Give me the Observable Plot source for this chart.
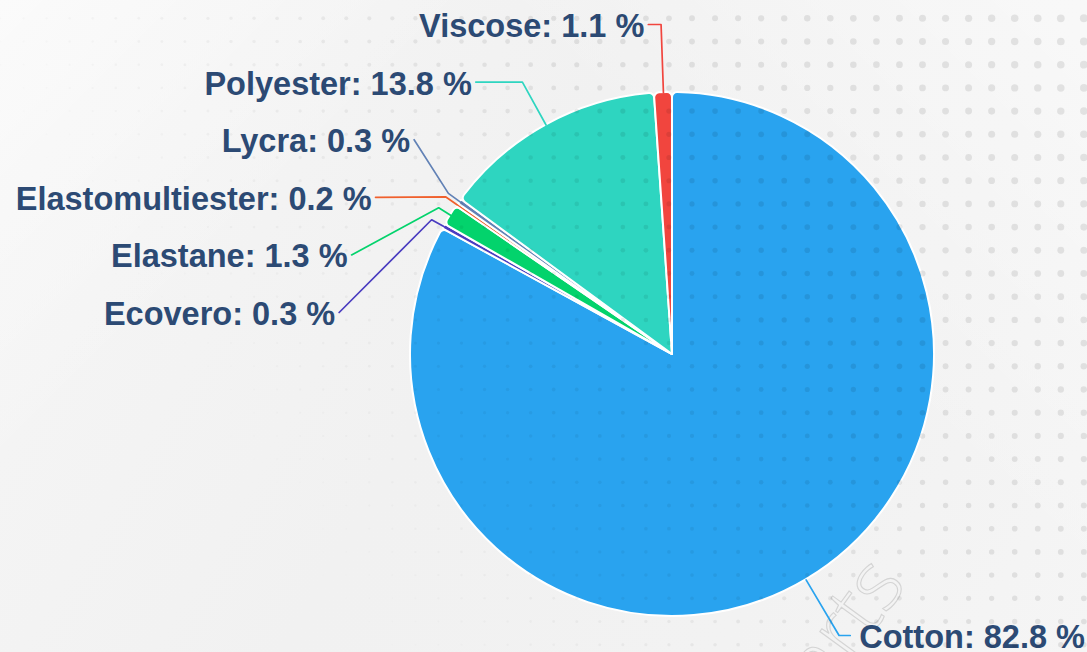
<!DOCTYPE html>
<html>
<head>
<meta charset="utf-8">
<script src="https://cdn.jsdelivr.net/npm/d3@7"></script>
<script src="https://cdn.jsdelivr.net/npm/@observablehq/plot@0.6"></script>
<style>
  html, body { margin: 0; padding: 0; }
  body { width: 1087px; height: 652px; overflow: hidden; }
  #wrap {
    position: relative; width: 1087px; height: 652px; overflow: hidden;
    background:
      linear-gradient(135deg, rgba(255,255,255,0.55) 0%, rgba(255,255,255,0.0) 28%),
      linear-gradient(225deg, rgba(255,255,255,0.5) 0%, rgba(255,255,255,0.0) 35%),
      linear-gradient(120deg, #f6f6f6 0%, #f1f1f1 45%, #f2f2f2 75%, #f5f5f5 100%);
  }
  #wrap > svg, #wrap > canvas { position: absolute; left: 0; top: 0; }
  #dots { pointer-events: none; }
</style>
</head>
<body>
<div id="wrap">
  <svg id="watermark" width="1087" height="652">
    <text transform="translate(908,584) rotate(-54)" text-anchor="end"
          font-family="Open Sans, Lato, sans-serif" font-weight="300" font-size="82"
          fill="none" stroke="#d4d4d4" stroke-width="1.1">charts</text>
  </svg>
</div>
<canvas id="dots" width="1087" height="652"></canvas>
<script>
// ---- data ----
const materials = ["Cotton", "Ecovero", "Elastane", "Elastomultiester", "Lycra", "Polyester", "Viscose"];
const shares = [82.8, 0.3, 1.3, 0.2, 0.3, 13.8, 1.1];
const sliceColors = ["#29a3ef", "#4a3cc0", "#03d36c", "#f0602d", "#6282b6", "#2ed5c0", "#f1453e"];

// ---- layout ----
const W = 1087, H = 652, CX = 672, CY = 354, R = 262;
const LABEL_R = 336 / R, BREAK_R = 276 / R, BOX = 57.6 / R, PAD = 13 / R;
const TOP_LIMIT = (CY - 24) / R, BOTTOM_LIMIT = -(H - 17 - CY) / R;

const records = materials.map((name, i) => ({name, share: shares[i]}));
const arcs = d3.pie().sort(null).value(d => d.share)(records);
const slices = arcs.map(a => ({
  name: a.data.name, share: a.data.share,
  a0: a.startAngle, a1: a.endAngle, mid: (a.startAngle + a.endAngle) / 2
}));
slices.forEach(s => {
  s.side = Math.sin(s.mid) < 0 ? "left" : "right";
  s.ideal = LABEL_R * Math.cos(s.mid);
  s.label = `${s.name}: ${s.share.toFixed(1)} %`;
});

// Highcharts-like label distribution (y up, top first)
function distribute(items, size, hi, lo) {
  items.sort((a, b) => b.ideal - a.ideal);
  let clusters = items.map(it => ({members: [it], sum: it.ideal}));
  const place = c => {
    const n = c.members.length;
    let first = c.sum / n + (n - 1) * size / 2;
    first = Math.max(first, lo + (n - 1) * size);
    first = Math.min(first, hi);
    c.first = first;
  };
  clusters.forEach(place);
  let merged = true;
  while (merged) {
    merged = false;
    for (let i = 0; i < clusters.length - 1; i++) {
      const a = clusters[i], b = clusters[i + 1];
      if (b.first > a.first - a.members.length * size + 1e-9) {
        const c = {members: a.members.concat(b.members), sum: a.sum + b.sum};
        place(c);
        clusters.splice(i, 2, c);
        merged = true;
        break;
      }
    }
  }
  clusters.forEach(c => c.members.forEach((m, k) => { m.ly = c.first - k * size; }));
}
distribute(slices.filter(s => s.side === "left"), BOX, TOP_LIMIT, BOTTOM_LIMIT);
distribute(slices.filter(s => s.side === "right"), BOX, TOP_LIMIT, BOTTOM_LIMIT);

const connectors = [];
slices.forEach(s => {
  const sign = s.side === "left" ? -1 : 1;
  const c = Math.cos(s.mid), sn = Math.sin(s.mid);
  const clamped = Math.abs(s.ly - TOP_LIMIT) < 1e-6 || Math.abs(s.ly - BOTTOM_LIMIT) < 1e-6;
  if (clamped) {
    // labels pinned to the top/bottom edge keep their natural x
    s.lx = sn * (LABEL_R - PAD) + sign * PAD;
  } else {
    s.lx = sign * Math.sqrt(Math.max(0, LABEL_R * LABEL_R - s.ly * s.ly));
  }
  let k = Math.abs(c) > 1e-6 ? s.ly / c : -1;
  if (!(k >= BREAK_R && k <= LABEL_R)) k = BREAK_R;
  connectors.push({name: s.name, x: s.lx, y: s.ly});
  connectors.push({name: s.name, x: k * sn, y: k * c});
  connectors.push({name: s.name, x: sn, y: c});
});

// pie slices drawn with the plot's own x, y and color scales
function pieMark(index, scales) {
  const cx = scales.x(0), cy = scales.y(0), r = scales.x(1) - scales.x(0);
  const arc = d3.arc().innerRadius(0).outerRadius(r).cornerRadius(5);
  const g = d3.create("svg:g").attr("transform", `translate(${cx},${cy})`);
  g.selectAll("path").data(slices).join("path")
    .attr("d", d => arc({startAngle: d.a0, endAngle: d.a1}))
    .attr("fill", d => scales.color(d.name))
    .attr("stroke", "#ffffff")
    .attr("stroke-width", 2)
    .attr("stroke-linejoin", "round");
  return g.node();
}

const textStyle = {
  x: "lx", y: "ly", text: "label", fill: "#2c4a74",
  fontSize: 32.5, fontWeight: "bold",
  fontFamily: "Liberation Sans, Arial, Helvetica, sans-serif",
  lineAnchor: "middle", dy: 2
};

const chart = Plot.plot({
  width: W, height: H,
  marginTop: 0, marginRight: 0, marginBottom: 0, marginLeft: 0,
  x: {domain: [-CX / R, (W - CX) / R], range: [0, W], axis: null},
  y: {domain: [-(H - CY) / R, CY / R], range: [H, 0], axis: null},
  color: {domain: materials, range: sliceColors},
  style: {background: "transparent", overflow: "visible"},
  marks: [
    pieMark,
    Plot.line(connectors, {x: "x", y: "y", z: "name", stroke: "name", strokeWidth: 1.7}),
    Plot.text(slices.filter(s => s.side === "left"), {...textStyle, textAnchor: "end", dx: -4}),
    Plot.text(slices.filter(s => s.side === "right"), {...textStyle, textAnchor: "start", dx: 9})
  ]
});
document.getElementById("wrap").appendChild(chart);
const dots = document.getElementById("dots");
document.getElementById("wrap").appendChild(dots);

// decorative halftone dot overlay
(function () {
  const ctx = dots.getContext("2d");
  for (let j = -1; j < 30; j++) {
    const y = 18.3 + 23.2 * j;
    for (let i = 0; i < 49; i++) {
      const x = 0.5 + 23.05 * i;
      const s = Math.max(0, Math.min(1, (0.815 * x - 0.58 * y + 110) / 996));
      if (s <= 0.02) continue;
      const rad = 0.8 + 3.2 * s;
      const alpha = 0.085 * Math.min(1, s * 1.8);
      ctx.fillStyle = `rgba(0,0,0,${alpha})`;
      ctx.beginPath();
      ctx.arc(x, y, rad, 0, Math.PI * 2);
      ctx.fill();
    }
  }
})();
</script>
</body>
</html>
